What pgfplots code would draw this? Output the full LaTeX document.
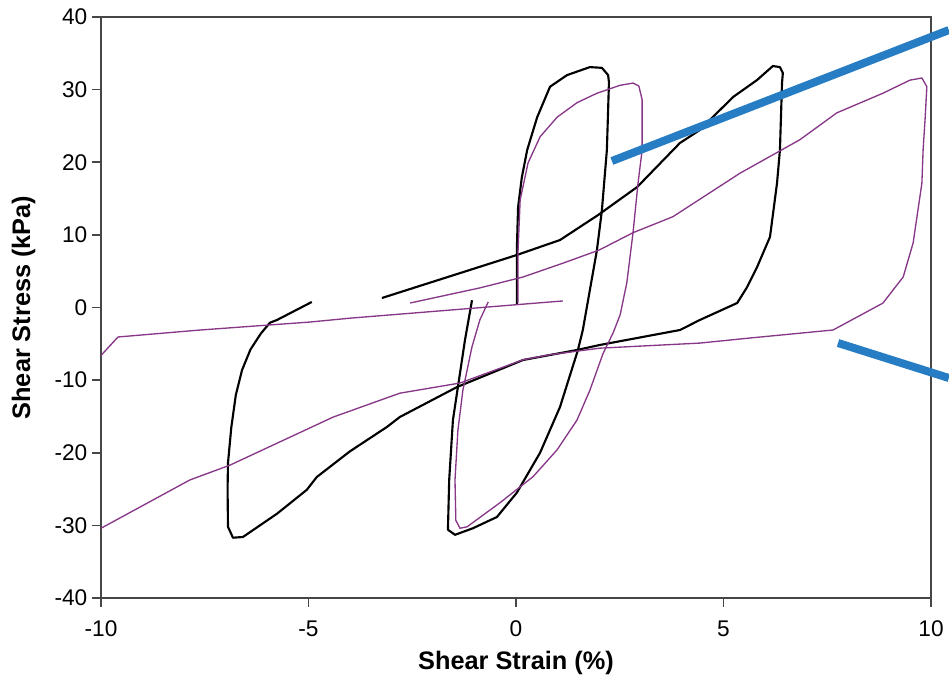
\documentclass[border=0pt]{standalone}
\usepackage{pgfplots}
\pgfplotsset{compat=1.18}
\usepackage{fontspec}
\setmainfont{Liberation Sans}
\definecolor{magline}{RGB}{135,55,135}
\definecolor{bluearrow}{RGB}{38,125,196}
\definecolor{axisgray}{RGB}{70,70,70}
\begin{document}
\begin{tikzpicture}
\begin{axis}[
  name=ax,
  scale only axis,
  width=622.5pt, height=435.75pt,
  xmin=-10, xmax=10, ymin=-40, ymax=40,
  xtick={-10,-5,0,5,10}, ytick={-40,-30,...,40},
  tick pos=left, tick align=outside,
  major tick length=6.75pt,
  axis line style={axisgray, line width=1.2pt},
  tick style={axisgray, line width=1.2pt},
  /pgf/number format/assume math mode=true,
  ticklabel style={font=\fontsize{17}{20}\selectfont},
  xticklabel style={yshift=-7pt},
  xlabel={\bfseries Shear Strain (\%)},
  ylabel={\bfseries Shear Stress (kPa)},
  label style={font=\fontsize{19}{22}\selectfont},
  xlabel style={at={(axis description cs:0.5,-0.1119)}, anchor=center},
  ylabel style={at={(axis description cs:-0.0934,0.5)}, anchor=center},
  clip=false,
]
% black cycle 1
\addplot[black, line width=1.6pt, line join=round] coordinates {
(0.02,0.5) (0.02,7.9) (0.05,13.8) (0.14,17.9) (0.27,21.7) (0.51,26.2) (0.82,30.4)
(1.23,32.0) (1.78,33.1) (2.07,33.0) (2.22,32.0) (2.24,31.0) (2.19,21.7) (2.07,13.4)
(1.95,7.9) (1.78,2.4) (1.61,-3.1) (1.49,-5.9) (1.06,-13.7) (0.58,-20.0) (0.02,-25.5)
(-0.46,-28.85) (-1.04,-30.4) (-1.47,-31.3) (-1.64,-30.6) (-1.61,-23.75) (-1.52,-15.5)
(-1.40,-10.95) (-1.23,-4.5) (-1.06,1.0)
};
% black cycle 2
\addplot[black, line width=1.6pt, line join=round] coordinates {
(-3.23,1.31) (0.02,7.23) (1.06,9.29) (1.98,12.74) (2.92,16.59) (3.95,22.65) (4.43,24.44)
(5.23,28.98) (5.81,31.33) (6.19,33.25) (6.36,33.1) (6.43,32.3) (6.41,30.9) (6.36,21.7)
(6.29,17.14) (6.12,9.71) (5.81,5.58) (5.57,2.82) (5.33,0.62) (4.43,-1.72) (3.95,-3.10)
(2.02,-5.16) (1.47,-5.85) (0.17,-7.23) (-1.42,-10.95) (-2.80,-15.08) (-3.11,-16.45)
(-4.0,-19.8) (-4.80,-23.34) (-5.04,-25.1) (-5.76,-28.4) (-6.58,-31.6) (-6.82,-31.7)
(-6.94,-30.2) (-6.95,-25.0) (-6.94,-21.4) (-6.86,-16.5) (-6.75,-12.0) (-6.60,-8.6)
(-6.40,-5.8) (-6.15,-3.6) (-5.93,-2.1) (-5.76,-1.72) (-4.92,0.76)
};
% magenta cycle 1
\addplot[magline, line width=1pt, line join=round] coordinates {
(0.05,0.6) (0.05,7.9) (0.10,14.8) (0.29,19.9) (0.58,23.5) (0.99,26.2) (1.47,28.2)
(1.95,29.5) (2.51,30.6) (2.82,30.9) (2.96,30.5) (3.04,28.6) (3.04,21.7) (2.94,17.1)
(2.82,10.3) (2.67,3.4) (2.51,-1.0) (2.34,-3.5) (2.10,-6.3) (1.78,-11.4) (1.47,-15.5)
(0.99,-19.6) (0.41,-23.3) (-0.39,-26.9) (-1.18,-30.2) (-1.35,-30.4) (-1.45,-29.3)
(-1.47,-23.75) (-1.40,-16.9) (-1.28,-11.4) (-1.06,-5.4) (-0.87,-1.7) (-0.67,0.76)
};
% magenta cycle 2, part A
\addplot[magline, line width=1pt, line join=round] coordinates {
(-2.55,0.62) (-0.87,2.7) (0.17,4.2) (1.13,6.1) (2.0,7.9) (2.82,10.3) (3.78,12.5)
(5.40,18.5) (6.84,23.1) (7.73,26.8) (8.84,29.5) (9.49,31.3) (9.78,31.6) (9.90,30.4)
(9.86,26.2) (9.81,21.7) (9.78,17.1) (9.57,8.9) (9.33,4.2) (8.84,0.6) (7.64,-3.1)
(5.64,-4.2) (4.43,-4.9) (2.02,-5.6) (0.82,-6.5) (0.17,-7.2) (-1.35,-10.4) (-2.80,-11.8)
(-4.41,-15.1) (-6.89,-21.7) (-7.86,-23.75) (-10.0,-30.4)
};
% magenta cycle 2, part B
\addplot[magline, line width=1pt, line join=round] coordinates {
(-10.0,-6.6) (-9.59,-4.06) (-7.61,-3.1) (-4.96,-2.0) (-4.0,-1.47) (0.82,0.76) (1.13,0.9)
};
% blue annotation lines
\addplot[bluearrow, line width=6pt] coordinates {(2.31,20.17) (10.43,38.2)};
\addplot[bluearrow, line width=6pt] coordinates {(7.76,-4.89) (10.43,-9.71)};
\end{axis}
\pgfresetboundingbox
\path[use as bounding box] ([xshift=-75.75pt,yshift=-63.75pt]ax.south west) rectangle ([xshift=13.5pt,yshift=12.75pt]ax.north east);
\end{tikzpicture}
\end{document}
